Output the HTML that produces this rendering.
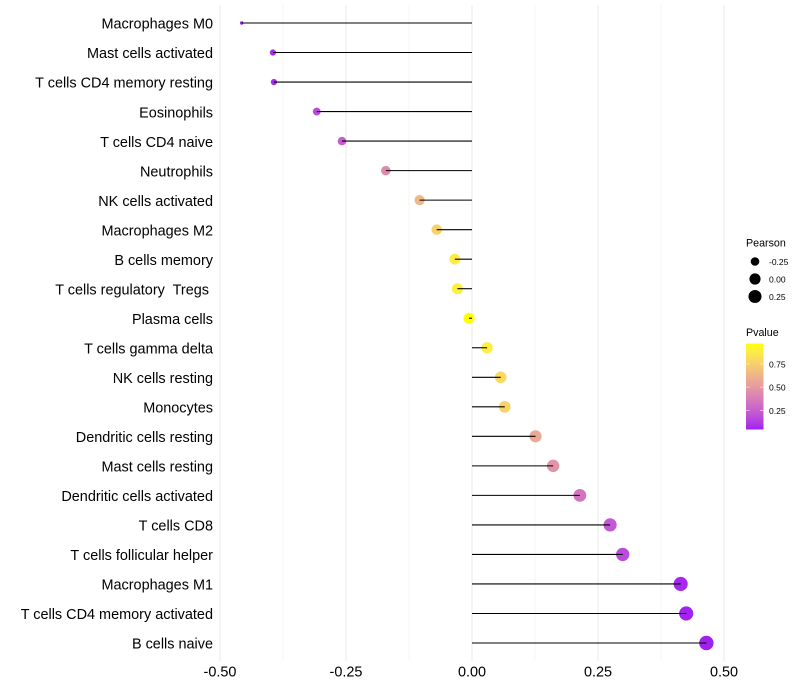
<!DOCTYPE html>
<html lang="en">
<head>
<meta charset="utf-8">
<title>Lollipop chart</title>
<style>
html,body{margin:0;padding:0;background:#fff;}
svg{display:block;font-family:"Liberation Sans",Arial,sans-serif;}
text{white-space:pre;}
</style>
</head>
<body>
<svg id="chart" xmlns="http://www.w3.org/2000/svg" width="800" height="700" viewBox="0 0 800 700">
  <defs>
    <linearGradient id="pvalue-gradient" x1="0" y1="1" x2="0" y2="0"></linearGradient>
  </defs>
  <g id="grid"></g>
  <g id="series"></g>
  <g id="y-axis"></g>
  <g id="x-axis"></g>
  <g id="size-legend">
    <text x="746" y="246.5" font-size="10.7" fill="#000">Pearson</text>
  </g>
  <g id="color-legend">
    <text x="746" y="336" font-size="10.7" fill="#000">Pvalue</text>
  </g>
</svg>
<script>
const categories = ["Macrophages M0","Mast cells activated","T cells CD4 memory resting","Eosinophils","T cells CD4 naive","Neutrophils","NK cells activated","Macrophages M2","B cells memory","T cells regulatory  Tregs ","Plasma cells","T cells gamma delta","NK cells resting","Monocytes","Dendritic cells resting","Mast cells resting","Dendritic cells activated","T cells CD8","T cells follicular helper","Macrophages M1","T cells CD4 memory activated","B cells naive"];
const pearson = [-0.457,-0.395,-0.393,-0.308,-0.258,-0.171,-0.104,-0.070,-0.034,-0.029,-0.006,0.030,0.057,0.065,0.126,0.161,0.214,0.274,0.299,0.414,0.425,0.465];
const pvalues = [0.045,0.070,0.072,0.170,0.240,0.440,0.640,0.760,0.880,0.900,0.970,0.890,0.800,0.770,0.570,0.470,0.340,0.220,0.170,0.060,0.050,0.043];
const xTicks = [-0.50,-0.25,0.00,0.25,0.50];
const xMinorTicks = [-0.375,-0.125,0.125,0.375];
const sizeLegendValues = [-0.25,0.00,0.25];
const colorLegendValues = [0.25,0.50,0.75];

const NS = "http://www.w3.org/2000/svg";
function make(tag, attrs, parent) {
  const el = document.createElementNS(NS, tag);
  for (const k in attrs) el.setAttribute(k, attrs[k]);
  parent.appendChild(el);
  return el;
}
function xScale(v) { return 472 + 504 * v; }
function yScale(i) { return 23 + i * 29.524; }

const rMin = Math.min(...pearson), rMax = Math.max(...pearson);
function radius(v) {
  const t = Math.max(0, (v - rMin) / ((rMax - rMin) || 1));
  return 1.7 + 5.5 * Math.sqrt(t);
}

function toLab(c) {
  const lin = c.map(u => { u /= 255; return u > 0.04045 ? Math.pow((u + 0.055) / 1.055, 2.4) : u / 12.92; });
  const X = (0.4124 * lin[0] + 0.3576 * lin[1] + 0.1805 * lin[2]) / 0.95047;
  const Y = 0.2126 * lin[0] + 0.7152 * lin[1] + 0.0722 * lin[2];
  const Z = (0.0193 * lin[0] + 0.1192 * lin[1] + 0.9505 * lin[2]) / 1.08883;
  const f = t => t > 0.008856 ? Math.cbrt(t) : 7.787 * t + 16 / 116;
  return [116 * f(Y) - 16, 500 * (f(X) - f(Y)), 200 * (f(Y) - f(Z))];
}
function fromLab(L) {
  const fy = (L[0] + 16) / 116, fx = fy + L[1] / 500, fz = fy - L[2] / 200;
  const g = t => t * t * t > 0.008856 ? t * t * t : (t - 16 / 116) / 7.787;
  const X = g(fx) * 0.95047, Y = g(fy), Z = g(fz) * 1.08883;
  const lin = [3.2406 * X - 1.5372 * Y - 0.4986 * Z, -0.9689 * X + 1.8758 * Y + 0.0415 * Z, 0.0557 * X - 0.2040 * Y + 1.0570 * Z];
  const out = lin.map(u => {
    u = Math.max(0, Math.min(1, u));
    return Math.round(255 * (u > 0.0031308 ? 1.055 * Math.pow(u, 1 / 2.4) - 0.055 : 12.92 * u));
  });
  return "rgb(" + out.join(",") + ")";
}
const labLow = toLab([160, 32, 240]);
const labHigh = toLab([255, 255, 0]);
function colorAt(t) {
  t = Math.max(0, Math.min(1, t));
  return fromLab(labLow.map((a, i) => a + (labHigh[i] - a) * t));
}
const pMin = Math.min(...pvalues), pMax = Math.max(...pvalues);
function colorScale(p) { return colorAt((p - pMin) / ((pMax - pMin) || 1)); }

const PANEL_TOP = 5, PANEL_BOTTOM = 661;
const grid = document.getElementById("grid");
xMinorTicks.forEach(v => {
  const l = make("line", {x1: xScale(v), x2: xScale(v), y1: PANEL_TOP, y2: PANEL_BOTTOM, stroke: "#ebebeb", "stroke-width": 0.55}, grid);
  
  
});
xTicks.forEach(v => {
  const l = make("line", {x1: xScale(v), x2: xScale(v), y1: PANEL_TOP, y2: PANEL_BOTTOM, stroke: "#ebebeb", "stroke-width": 1.07}, grid);
  
  
});

const series = document.getElementById("series");
const yAxis = document.getElementById("y-axis");
categories.forEach((name, i) => {
  const y = yScale(i);
  const pt = make("circle", {cx: xScale(pearson[i]), cy: y, r: radius(pearson[i]), fill: colorScale(pvalues[i])}, series);
  
  
  const ln = make("line", {x1: xScale(0), x2: xScale(pearson[i]), y1: y, y2: y, stroke: "#000", "stroke-width": 1.07}, series);
  
  
  const lb = make("text", {x: 213, y: y + 5.7, "text-anchor": "end", "font-size": 14.45, fill: "#000"}, yAxis);
  
  
  lb.textContent = name;
});

const xAxis = document.getElementById("x-axis");
xTicks.forEach(v => {
  const t = make("text", {x: xScale(v), y: 676.5, "text-anchor": "middle", "font-size": 14.45, fill: "#000"}, xAxis);
  
  
  t.textContent = v.toFixed(2);
});

const sizeLegend = document.getElementById("size-legend");
sizeLegendValues.forEach((v, i) => {
  const y = 261.5 + i * 17.5;
  const c = make("circle", {cx: 755, cy: y, r: radius(v), fill: "#000"}, sizeLegend);
  
  
  const t = make("text", {x: 769, y: y + 3.5, "font-size": 8.5, fill: "#000"}, sizeLegend);
  
  
  t.textContent = v.toFixed(2);
});

const gradient = document.getElementById("pvalue-gradient");
for (let s = 0; s <= 20; s++) {
  make("stop", {offset: (s * 5) + "%", "stop-color": colorAt(s / 20)}, gradient);
}
const BAR_TOP = 343.5, BAR_BOTTOM = 429.5, BAR_LEFT = 746, BAR_RIGHT = 763.5;
function barY(p) { return BAR_BOTTOM - (p - pMin) / ((pMax - pMin) || 1) * (BAR_BOTTOM - BAR_TOP); }
const colorLegend = document.getElementById("color-legend");
const bar = make("rect", {x: BAR_LEFT, y: BAR_TOP, width: BAR_RIGHT - BAR_LEFT, height: BAR_BOTTOM - BAR_TOP, fill: "url(#pvalue-gradient)"}, colorLegend);


colorLegendValues.forEach(v => {
  const y = barY(v);
  const a = make("line", {x1: BAR_LEFT, x2: BAR_LEFT + 3.5, y1: y, y2: y, stroke: "#fff", "stroke-width": 0.5}, colorLegend);
  
  
  const b = make("line", {x1: BAR_RIGHT - 3.5, x2: BAR_RIGHT, y1: y, y2: y, stroke: "#fff", "stroke-width": 0.5}, colorLegend);
  
  
  const t = make("text", {x: 769, y: y + 3.5, "font-size": 8.5, fill: "#000"}, colorLegend);
  
  
  t.textContent = v.toFixed(2);
});
</script>
</body>
</html>
